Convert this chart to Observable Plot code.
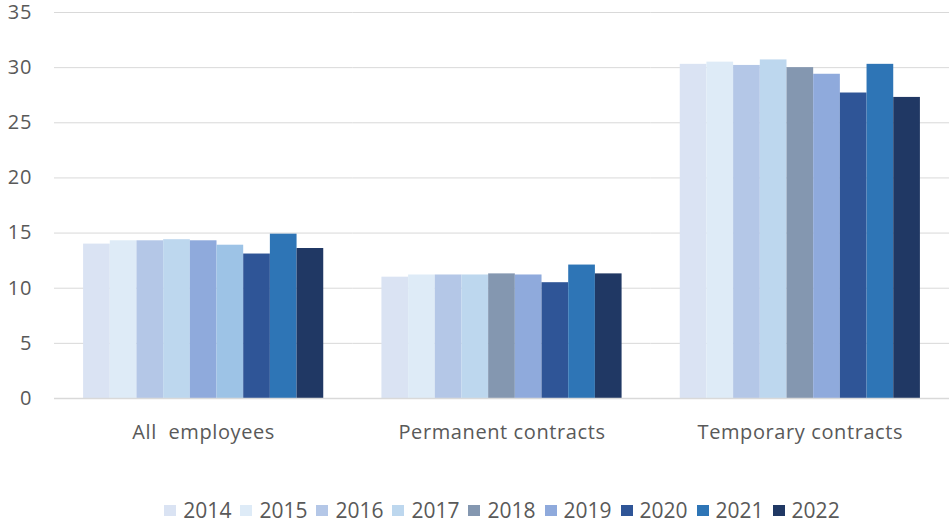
<!DOCTYPE html>
<html>
<head>
<meta charset="utf-8">
<script src="https://cdn.jsdelivr.net/npm/d3@7"></script>
<script src="https://cdn.jsdelivr.net/npm/@observablehq/plot@0.6"></script>
<style>
  body { margin: 0; background: #fff; font-family: "Open Sans", sans-serif; }
  #chart svg text { white-space: pre; }
  #chart svg g[aria-label="fx-axis tick label"] text { letter-spacing: 0.6px; }
  #chart svg g[aria-label="y-axis tick label"] text { letter-spacing: 1px; }
  #legend { display: flex; justify-content: center; align-items: center; margin-top: 29px; margin-left: 55px;
            font-size: 21px; color: #595959; line-height: 22px; }
  #legend .item { display: flex; align-items: center; margin: 0 4.5px; }
  #legend .sw { width: 12px; height: 11px; margin-right: 7px; }
</style>
</head>
<body>
<div id="chart"></div>
<div id="legend"></div>
<script>
const groups = ["All  employees", "Permanent contracts", "Temporary contracts"];
const years = ["2014", "2015", "2016", "2017", "2018", "2019", "2020", "2021", "2022"];
const allEmployees = [14.0, 14.3, 14.3, 14.4, 14.3, 13.9, 13.1, 14.9, 13.6];
const permanentContracts = [11.0, 11.2, 11.2, 11.2, 11.3, 11.2, 10.5, 12.1, 11.3];
const temporaryContracts = [30.3, 30.5, 30.2, 30.7, 30.0, 29.4, 27.7, 30.3, 27.3];
const yTicks = [0, 5, 10, 15, 20, 25, 30, 35];
const palette = ["#dae3f3", "#deebf7", "#b4c7e7", "#bdd7ee", "#8497b0", "#8faadc", "#2f5597", "#2e75b6", "#203864"];
// the first group in the original uses slightly different shades for 2018 and 2019
const paletteAllEmployees = ["#dae3f3", "#deebf7", "#b4c7e7", "#bdd7ee", "#8faadc", "#9dc3e6", "#2f5597", "#2e75b6", "#203864"];

const series = [allEmployees, permanentContracts, temporaryContracts];
const data = [];
groups.forEach((g, gi) => {
  years.forEach((yr, yi) => {
    data.push({
      group: g,
      year: yr,
      value: series[gi][yi],
      color: gi === 0 ? paletteAllEmployees[yi] : palette[yi]
    });
  });
});

const chart = Plot.plot({
  width: 949,
  height: 470,
  marginLeft: 54,
  marginRight: 0,
  marginTop: 12,
  marginBottom: 72,
  style: { fontFamily: "'Open Sans', sans-serif", fontSize: "20px", color: "#595959", background: "#fff" },
  fx: { domain: groups, padding: 0, label: null, round: false },
  x: { domain: years, paddingInner: 0, paddingOuter: 1.09, round: false, axis: null },
  y: { domain: [0, 35], label: null },
  color: { type: "identity" },
  marks: [
    Plot.gridY(yTicks, { stroke: "#d9d9d9", strokeOpacity: 1 }),
    Plot.barY(data, { fx: "group", x: "year", y: "value", fill: "color", inset: 0 }),
    Plot.ruleY([0], { stroke: "#d9d9d9", strokeWidth: 1.5 }),
    Plot.axisY(yTicks, { tickSize: 0, tickPadding: 22, label: null, fill: "#595959" }),
    Plot.axisFx({ anchor: "bottom", tickSize: 0, tickPadding: 26, label: null, fill: "#595959" })
  ]
});
document.getElementById("chart").appendChild(chart);

const legend = document.getElementById("legend");
years.forEach((yr, i) => {
  const item = document.createElement("div");
  item.className = "item";
  const sw = document.createElement("span");
  sw.className = "sw";
  sw.style.background = palette[i];
  const t = document.createElement("span");
  t.textContent = yr;
  item.appendChild(sw);
  item.appendChild(t);
  legend.appendChild(item);
});
</script>
</body>
</html>
